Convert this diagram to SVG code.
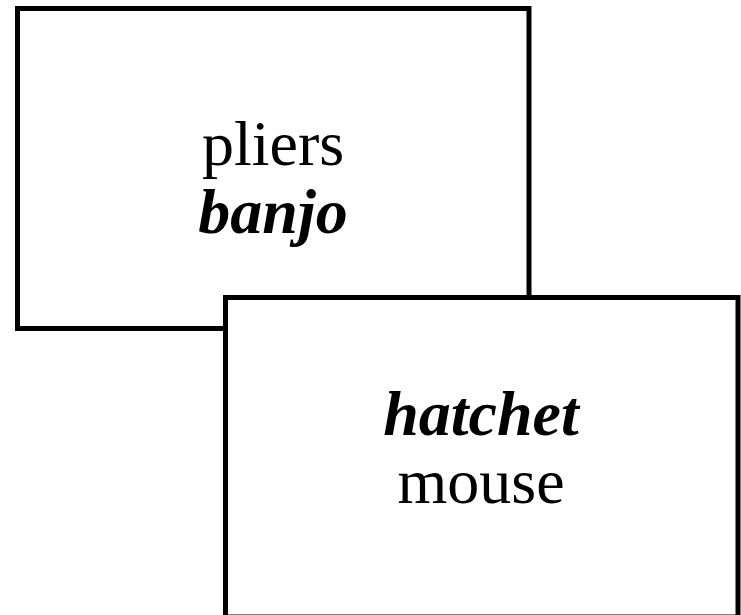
<svg xmlns="http://www.w3.org/2000/svg" width="741" height="615" viewBox="0 0 741 615">
  <style>
    .box { fill: #ffffff; stroke: #000000; stroke-width: 5; }
    .lbl { font-family: "Liberation Serif", "Times New Roman", serif; font-size: 64px; fill: #000000; text-anchor: middle; }
    .em { font-weight: bold; font-style: italic; }
  </style>
  <rect width="741" height="615" fill="#ffffff"/>
  <g id="node-pliers">
    <rect class="box" x="17.5" y="8.5" width="511.5" height="320"/>
    <text class="lbl" x="273" y="165">pliers</text>
    <text class="lbl em" x="273" y="233">banjo</text>
  </g>
  <g id="node-hatchet">
    <rect class="box" x="225.5" y="297.5" width="512.5" height="319.5"/>
    <text class="lbl em" x="481" y="435">hatchet</text>
    <text class="lbl" x="481" y="503">mouse</text>
  </g>
  <g id="connectors"></g>
</svg>
